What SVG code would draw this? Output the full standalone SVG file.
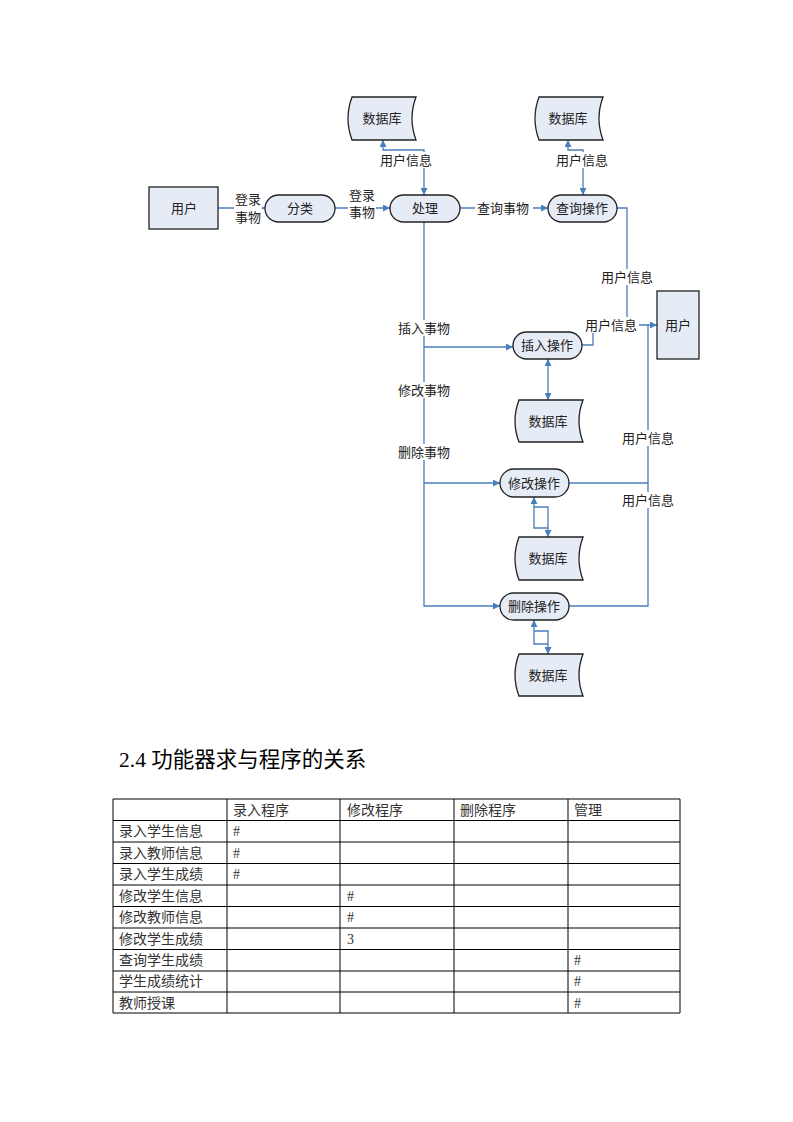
<svg xmlns="http://www.w3.org/2000/svg" width="793" height="1122" viewBox="0 0 793 1122">
<style>
.shape{fill:#e6ecf6;stroke:#222;stroke-width:1.3}
.t{font-family:"Liberation Serif","Noto Sans CJK SC",serif;font-size:13px;fill:#222;text-anchor:middle;dominant-baseline:central}
.lab{font-family:"Liberation Serif","Noto Sans CJK SC",serif;font-size:13px;fill:#222;text-anchor:middle;dominant-baseline:central}
.c{fill:none;stroke:#4a7ebb;stroke-width:1.3}
.tl{stroke:#000;stroke-width:1}
.tt{font-family:"Liberation Serif","Noto Sans CJK SC",serif;font-size:14px;fill:#333;dominant-baseline:central}
.h{font-family:"Liberation Serif","Noto Sans CJK SC",serif;font-size:21.5px;fill:#000}
</style>
<defs>
<marker id="a" viewBox="0 0 10 10" refX="10" refY="5" markerWidth="7" markerHeight="7" orient="auto-start-reverse" markerUnits="userSpaceOnUse">
<path d="M0,0 L10,5 L0,10 z" fill="#4a7ebb"/>
</marker>
</defs>
<g id="connectors">
<path class="c" d="M218,208 H265" marker-end="url(#a)"/>
<path class="c" d="M335,208 H390" marker-end="url(#a)"/>
<path class="c" d="M460,208 H548" marker-end="url(#a)"/>
<path class="c" d="M424,195 V150 H383 V140" marker-start="url(#a)" marker-end="url(#a)"/>
<path class="c" d="M583,195 V150 H568 V140" marker-start="url(#a)" marker-end="url(#a)"/>
<path class="c" d="M617,208 H627 V325 H657" marker-end="url(#a)"/>
<path class="c" d="M582,345 H593 V325"/>
<path class="c" d="M569,483 H648 V325"/>
<path class="c" d="M569,606 H648 V483"/>
<path class="c" d="M424,222 V606 H500" marker-end="url(#a)"/>
<path class="c" d="M424,347 H513" marker-end="url(#a)"/>
<path class="c" d="M424,483 H500" marker-end="url(#a)"/>
<path class="c" d="M548,359 V400" marker-start="url(#a)" marker-end="url(#a)"/>
<path class="c" d="M548,528 H534 V497" marker-end="url(#a)"/>
<path class="c" d="M534,507 H548 V537" marker-end="url(#a)"/>
<path class="c" d="M548,644 H534 V620" marker-end="url(#a)"/>
<path class="c" d="M534,631 H548 V654" marker-end="url(#a)"/>
<g>
<rect x="234" y="190" width="28" height="36" fill="#fff"/>
<text class="lab" x="248" y="199">登录</text>
<text class="lab" x="248" y="217">事物</text>
<rect x="348" y="186" width="28" height="36" fill="#fff"/>
<text class="lab" x="362" y="195">登录</text>
<text class="lab" x="362" y="212">事物</text>
<rect x="377" y="152" width="58" height="16" fill="#fff"/>
<text class="lab" x="406" y="160">用户信息</text>
<rect x="553" y="152" width="58" height="16" fill="#fff"/>
<text class="lab" x="582" y="160">用户信息</text>
<rect x="475" y="200" width="58" height="16" fill="#fff"/>
<text class="lab" x="503" y="208">查询事物</text>
<rect x="598" y="269" width="58" height="16" fill="#fff"/>
<text class="lab" x="627" y="277">用户信息</text>
<rect x="583" y="317" width="56" height="16" fill="#fff"/>
<text class="lab" x="611" y="325">用户信息</text>
<rect x="396" y="320" width="56" height="16" fill="#fff"/>
<text class="lab" x="424" y="328">插入事物</text>
<rect x="396" y="382" width="56" height="16" fill="#fff"/>
<text class="lab" x="424" y="390">修改事物</text>
<rect x="396" y="444" width="56" height="16" fill="#fff"/>
<text class="lab" x="424" y="452">删除事物</text>
<rect x="620" y="430" width="56" height="16" fill="#fff"/>
<text class="lab" x="648" y="438">用户信息</text>
<rect x="620" y="492" width="56" height="16" fill="#fff"/>
<text class="lab" x="648" y="500">用户信息</text>
</g>
</g>
<g id="user1"><rect class="shape" x="149" y="187" width="69" height="42"/><text class="t" x="184" y="208">用户</text></g>
<g id="fenlei"><rect class="shape" x="265" y="195" width="70" height="27" rx="13.5"/><text class="t" x="300" y="208">分类</text></g>
<g id="chuli"><rect class="shape" x="390" y="195" width="70" height="27" rx="13.5"/><text class="t" x="425" y="208">处理</text></g>
<g id="db1"><path class="shape" d="M352,97 H416 Q408,118.5 416,140 H352 Q344,118.5 352,97 z"/><text class="t" x="382" y="118">数据库</text></g>
<g id="db2"><path class="shape" d="M539,97 H603 Q595,118.5 603,140 H539 Q531,118.5 539,97 z"/><text class="t" x="568" y="118">数据库</text></g>
<g id="chaxun"><rect class="shape" x="548" y="195" width="69" height="27" rx="13.5"/><text class="t" x="582" y="208">查询操作</text></g>
<g id="user2"><rect class="shape" x="657" y="291" width="42" height="68"/><text class="t" x="678" y="325">用户</text></g>
<g id="charu"><rect class="shape" x="513" y="332" width="69" height="27" rx="13.5"/><text class="t" x="547" y="345">插入操作</text></g>
<g id="db3"><path class="shape" d="M519,400 H583 Q575,421 583,442 H519 Q511,421 519,400 z"/><text class="t" x="548" y="421">数据库</text></g>
<g id="xiugai"><rect class="shape" x="500" y="469" width="69" height="28" rx="14"/><text class="t" x="534" y="483">修改操作</text></g>
<g id="db4"><path class="shape" d="M519,537 H583 Q575,558.5 583,580 H519 Q511,558.5 519,537 z"/><text class="t" x="548" y="558">数据库</text></g>
<g id="shanchu"><rect class="shape" x="500" y="593" width="69" height="27" rx="13.5"/><text class="t" x="534" y="606">删除操作</text></g>
<g id="db5"><path class="shape" d="M519,654 H583 Q575,675 583,696 H519 Q511,675 519,654 z"/><text class="t" x="548" y="675">数据库</text></g>
<text class="h" x="119" y="767">2.4 功能器求与程序的关系</text>
<g id="table">
<g class="tl">
<line x1="113" y1="799" x2="680" y2="799"/>
<line x1="113" y1="820.5" x2="680" y2="820.5"/>
<line x1="113" y1="842" x2="680" y2="842"/>
<line x1="113" y1="863.5" x2="680" y2="863.5"/>
<line x1="113" y1="885" x2="680" y2="885"/>
<line x1="113" y1="906.5" x2="680" y2="906.5"/>
<line x1="113" y1="928" x2="680" y2="928"/>
<line x1="113" y1="949.5" x2="680" y2="949.5"/>
<line x1="113" y1="971" x2="680" y2="971"/>
<line x1="113" y1="992" x2="680" y2="992"/>
<line x1="113" y1="1013" x2="680" y2="1013"/>
<line x1="113" y1="799" x2="113" y2="1013"/>
<line x1="227" y1="799" x2="227" y2="1013"/>
<line x1="340" y1="799" x2="340" y2="1013"/>
<line x1="454" y1="799" x2="454" y2="1013"/>
<line x1="568" y1="799" x2="568" y2="1013"/>
<line x1="680" y1="799" x2="680" y2="1013"/>
</g>
<text class="tt" x="233" y="810">录入程序</text>
<text class="tt" x="347" y="810">修改程序</text>
<text class="tt" x="460" y="810">删除程序</text>
<text class="tt" x="574" y="810">管理</text>
<text class="tt" x="119" y="831">录入学生信息</text>
<text class="tt" x="119" y="853">录入教师信息</text>
<text class="tt" x="119" y="874">录入学生成绩</text>
<text class="tt" x="119" y="896">修改学生信息</text>
<text class="tt" x="119" y="917">修改教师信息</text>
<text class="tt" x="119" y="939">修改学生成绩</text>
<text class="tt" x="119" y="960">查询学生成绩</text>
<text class="tt" x="119" y="981">学生成绩统计</text>
<text class="tt" x="119" y="1003">教师授课</text>
<text class="tt" x="233" y="831">#</text>
<text class="tt" x="233" y="853">#</text>
<text class="tt" x="233" y="874">#</text>
<text class="tt" x="347" y="896">#</text>
<text class="tt" x="347" y="917">#</text>
<text class="tt" x="347" y="939">3</text>
<text class="tt" x="574" y="960">#</text>
<text class="tt" x="574" y="981">#</text>
<text class="tt" x="574" y="1003">#</text>
</g>
</svg>
